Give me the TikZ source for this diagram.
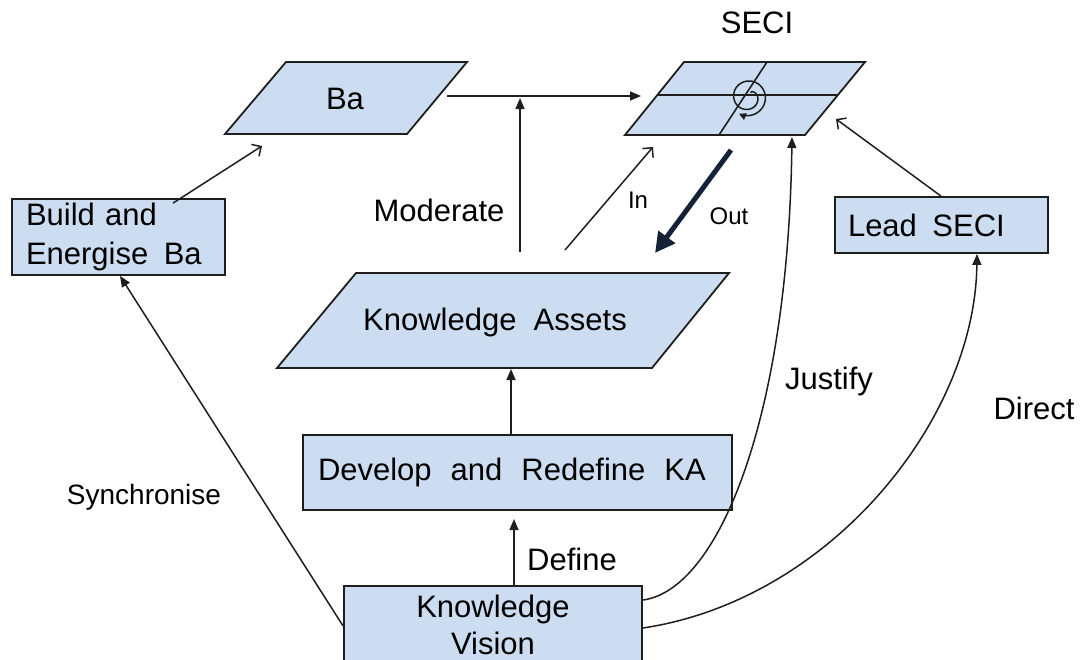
\documentclass[tikz,border=0pt]{standalone}
\usepackage{fontspec}
\setmainfont{Liberation Sans}
\usetikzlibrary{arrows.meta}
\definecolor{boxfill}{RGB}{205,221,241}
\definecolor{edge}{RGB}{30,30,30}
\definecolor{outarrow}{RGB}{20,34,56}

\begin{document}
\begin{tikzpicture}[x=1pt,y=-1pt,
  every node/.style={font=\fontsize{31}{38}\selectfont, text=black},
  box/.style={draw=edge, fill=boxfill, line width=1.8pt, inner sep=0pt},
  slab/.style={draw=edge, fill=boxfill, line width=1.8pt, line join=miter},
  grid/.style={draw=edge, line width=1.6pt},
  link/.style={draw=edge, line width=1.5pt},
  solidhead/.style={-{Triangle[length=11pt,width=9pt]}},
  openhead/.style={-{Straight Barb[length=7pt,width=14pt]}},
  small/.style={font=\fontsize{24}{28}\selectfont},
  mid/.style={font=\fontsize{28}{32}\selectfont}
]
\useasboundingbox (0,0) rectangle (1083,659);
\clip (0,0) rectangle (1083,659);

% ---- Ba (parallelogram)
\draw[slab] (286,62) -- (467,62) -- (407,134) -- (225,134) -- cycle;
\node (ba) at (345,99) {Ba};
\coordinate (ba-out) at (447,96);
\coordinate (ba-foot) at (262,146);

% ---- SECI (parallelogram split into four, with spiral)
\draw[slab] (684,62) -- (865,62) -- (805,135) -- (625,135) -- cycle;
\draw[grid] (657,95) -- (838,95);
\draw[grid] (767,62) -- (719,135);
\draw[grid, line width=1.5pt, -{Triangle[length=7pt,width=7pt]}]
  plot[smooth, domain=-420:118, samples=110]
  ({748+(5+14*sqrt((\x+420)/538))*cos(\x)}, {97+(5+14*sqrt((\x+420)/538))*sin(\x)});
\node (secititle) at (757,23) {SECI};
\coordinate (seci-west) at (641,96);
\coordinate (seci-in) at (653,147);
\coordinate (seci-just) at (792,137);
\coordinate (seci-east) at (836,119);

% ---- Knowledge Assets (parallelogram)
\draw[slab] (356,273) -- (729,273) -- (652,368) -- (277,368) -- cycle;
\node (ka) at (495,322) {Knowledge\ \ Assets};
\coordinate (ka-foot) at (511,369);
\coordinate (mod-start) at (520,252);
\coordinate (mod-end) at (520,98);
\coordinate (in-start) at (565,250);
\coordinate (out-start) at (731,150);
\coordinate (out-end) at (655,253);

% ---- rectangular boxes
\node[box, minimum width=213pt, minimum height=76pt, text width=185pt, align=left,
      font=\fontsize{31}{39}\selectfont] (build) at (118.5,237) {Build and\\Energise\ \,Ba};
\node[box, minimum width=213pt, minimum height=56pt, text width=187pt, align=left]
      (lead) at (941.5,225) {Lead\ \,SECI};
\node[box, minimum width=429pt, minimum height=75pt, text width=399pt, align=left]
      (develop) at (517.5,472.5) {Develop\hspace{19pt}and\hspace{19pt}Redefine\hspace{19pt}KA};
\node[box, minimum width=298pt, minimum height=78pt, align=center,
      font=\fontsize{31}{37}\selectfont] (vision) at (493,625) {Knowledge\\Vision};
\coordinate (dev-foot) at (514,519);

% ---- labels
\node (moderate) at (439,210) {Moderate};
\node[small] (in) at (638,200) {In};
\node[small] (out) at (729,216) {Out};
\node (justify) at (829,381) {Justify};
\node (direct) at (1034,408) {Direct};
\node (define) at (572,559) {Define};
\node[mid] (sync) at (144,497) {Synchronise};

% ---- connectors
\draw[link, solidhead] (ba-out) -- (seci-west);
\draw[link, solidhead] (mod-start) -- (mod-end);
\draw[link, openhead] (in-start) -- (seci-in);
\draw[outarrow, line width=5pt, -{Triangle[length=20pt,width=20pt]}] (out-start) -- (out-end);
\draw[link, solidhead] (develop.north -| ka-foot) -- (ka-foot);
\draw[link, solidhead] (vision.north -| dev-foot) -- (dev-foot);
\draw[link, solidhead] ([yshift=25pt]vision.east) .. controls (718,590) and (788,420) .. (seci-just);
\draw[link, solidhead] ([yshift=-3pt]vision.east) .. controls (830,600) and (975,420) .. ([xshift=35.5pt]lead.south);
\draw[link, openhead] ([xshift=-0.5pt]lead.north) -- (seci-east);
\draw[link, solidhead] ([yshift=-1pt]vision.west) -- ([xshift=1.5pt]build.south);
\draw[link, openhead] ([xshift=54.5pt,yshift=-5pt]build.north) -- (ba-foot);
\end{tikzpicture}
\end{document}
